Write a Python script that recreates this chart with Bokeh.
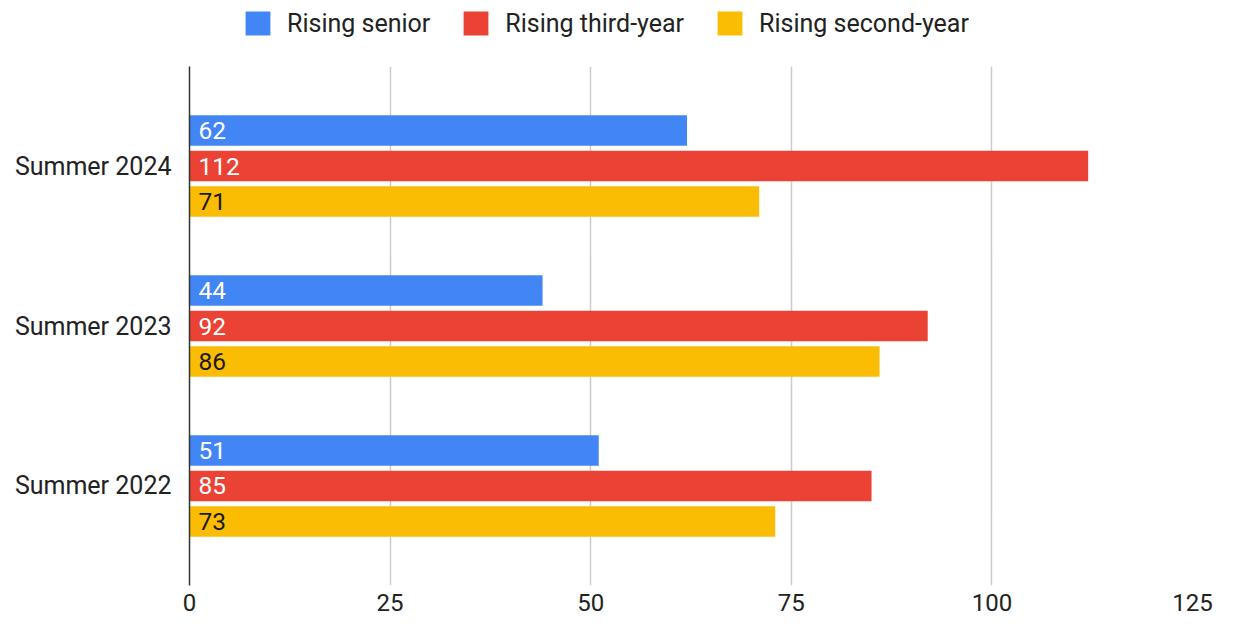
from bokeh.plotting import figure
from bokeh.models import FactorRange, Range1d, ColumnDataSource, Legend, LegendItem, FixedTicker
from bokeh.layouts import column
from bokeh.transform import dodge
from bokeh.core.properties import value
from bokeh.embed import file_html
from bokeh.resources import INLINE

periods = ["Summer 2022", "Summer 2023", "Summer 2024"]
series_names = ["Rising senior", "Rising third-year", "Rising second-year"]
rising_senior = [51, 44, 62]
rising_third_year = [85, 92, 112]
rising_second_year = [73, 86, 71]
x_ticks = [0, 25, 50, 75, 100, 125]

colors = ["#4285F4", "#EA4335", "#FBBC04"]
label_colors = ["#FFFFFF", "#FFFFFF", "#1A1A1A"]
offsets = [0.222, 0.0, -0.222]
series_values = [rising_senior, rising_third_year, rising_second_year]

FONT = value("Roboto")
FONT_NAME = "Roboto"

# ---- main chart ----
p = figure(width=1227, height=553,
           y_range=FactorRange(factors=periods, range_padding=0.122, range_padding_units="absolute"),
           x_range=Range1d(0, 125),
           output_backend="svg", toolbar_location=None,
           min_border_left=189, min_border_right=35, min_border_top=0, min_border_bottom=34)
p.outline_line_color = None
p.background_fill_color = "white"
p.border_fill_color = "white"

for name, vals, col, lcol, off in zip(series_names, series_values, colors, label_colors, offsets):
    src = ColumnDataSource(dict(period=periods, val=vals, lab=[str(v) for v in vals]))
    p.hbar(y=dodge("period", off, range=p.y_range), left=0, right="val", height=0.19,
           fill_color=col, line_color=None, source=src)
    p.text(x=0, y=dodge("period", off, range=p.y_range), text="lab", source=src,
           x_offset=9, text_baseline="middle", text_align="left",
           text_font=FONT, text_font_size="24.5px", text_color=lcol)

p.xaxis.ticker = FixedTicker(ticks=x_ticks)
p.xaxis.axis_line_color = None
p.xaxis.major_tick_line_color = None
p.xaxis.minor_tick_line_color = None
p.xaxis.major_label_standoff = 2
p.xaxis.major_label_text_font = FONT_NAME
p.xaxis.major_label_text_font_size = "24px"
p.xaxis.major_label_text_color = "#222222"

p.yaxis.axis_line_color = "#333333"
p.yaxis.axis_line_width = 1.5
p.yaxis.major_tick_line_color = None
p.yaxis.minor_tick_line_color = None
p.yaxis.major_label_standoff = 12
p.yaxis.major_label_text_font = FONT_NAME
p.yaxis.major_label_text_font_size = "25px"
p.yaxis.major_label_text_color = "#222222"

p.ygrid.grid_line_color = None
p.xgrid.grid_line_color = "#CCCCCC"
p.xgrid.grid_line_width = 1.5
p.xgrid.ticker = FixedTicker(ticks=x_ticks)

# ---- legend strip on top ----
lf = figure(width=1227, height=66, x_range=Range1d(0, 1), y_range=Range1d(0, 1),
            output_backend="svg", toolbar_location=None,
            min_border_left=0, min_border_right=0, min_border_top=0, min_border_bottom=0)
lf.axis.visible = False
lf.grid.grid_line_color = None
lf.outline_line_color = None

items = []
for name, col in zip(series_names, colors):
    # zero-width, off-view bar: only its legend swatch is shown
    r = lf.hbar(y=[-10], left=[0], right=[0], height=1, fill_color=col, line_color=None)
    items.append(LegendItem(label=name, renderers=[r]))

legend = Legend(items=items, orientation="horizontal", location=(53, 28),
                glyph_width=31, glyph_height=30, label_standoff=14, spacing=30,
                label_text_font=FONT_NAME, label_text_font_size="25px", label_text_color="#222222",
                border_line_color=None, background_fill_alpha=0, padding=0, margin=0)
lf.add_layout(legend, "center")

layout = column(lf, p, spacing=0)
open("out.html", "w").write(file_html(layout, INLINE))
